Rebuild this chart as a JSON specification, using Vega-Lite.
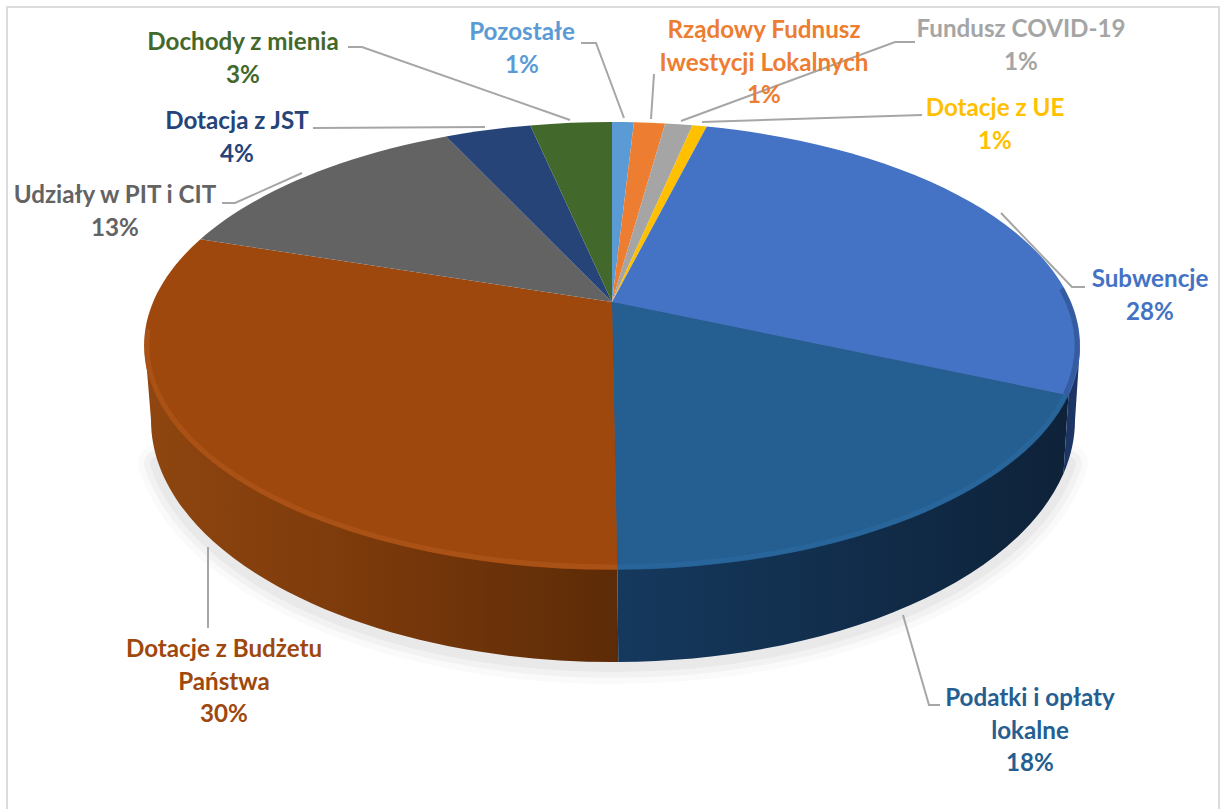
{
"$schema":"https://vega.github.io/schema/vega-lite/v6.json",
"width":1220,"height":809,"padding":0,"autosize":{"type":"none"},
"background":"#ffffff",
"view":{"stroke":null},
"data":{"values":[
{"order":1,"category":"Pozostałe","share":0.91,"label":"Pozostałe\n1%"},
{"order":2,"category":"Rządowy Fundusz","share":1.3,"label":"Rządowy Fudnusz\nIwestycji Lokalnych\n1%"},
{"order":3,"category":"Fundusz COVID-19","share":1.14,"label":"Fundusz COVID-19\n1%"},
{"order":4,"category":"Dotacje z UE","share":0.6,"label":"Dotacje z UE\n1%"},
{"order":5,"category":"Subwencje","share":27.6,"label":"Subwencje\n28%"},
{"order":6,"category":"Podatki","share":18.3,"label":"Podatki i opłaty\nlokalne\n18%"},
{"order":7,"category":"Dotacje BP","share":30.15,"label":"Dotacje z Budżetu\nPaństwa\n30%"},
{"order":8,"category":"Udziały","share":13,"label":"Udziały w PIT i CIT\n13%"},
{"order":9,"category":"Dotacja JST","share":3.6,"label":"Dotacja z JST\n4%"},
{"order":10,"category":"Dochody","share":3.4,"label":"Dochody z mienia\n3%"}
]},
"transform":[
{"stack":"share","groupby":[],"sort":[{"field":"order","order":"ascending"}],"as":["s0","s1"]},
{"calculate":"datum.s0*PI/50","as":"t0"},
{"calculate":"datum.s1*PI/50","as":"t1"},
{"calculate":"round(459*sin(datum.t0)/(1+0.196*cos(datum.t0))*100)/100","as":"x0"},
{"calculate":"round(-215.3*cos(datum.t0)/(1+0.196*cos(datum.t0))*100)/100","as":"y0"},
{"calculate":"round(459*sin(datum.t1)/(1+0.196*cos(datum.t1))*100)/100","as":"x1"},
{"calculate":"round(-215.3*cos(datum.t1)/(1+0.196*cos(datum.t1))*100)/100","as":"y1"},
{"calculate":"'M0,0L'+datum.x0+','+datum.y0+'A468,224,0,0,1,'+datum.x1+','+datum.y1+'Z'","as":"path"},
{"calculate":"max(datum.s0,24)*PI/50","as":"r0"},
{"calculate":"min(datum.s1,73)*PI/50","as":"r1"},
{"calculate":"'M'+round(456*sin(datum.r0)/(1+0.196*cos(datum.r0))*100)/100+','+round(-213*cos(datum.r0)/(1+0.196*cos(datum.r0))*100)/100+'A465,221.5,0,0,1,'+round(456*sin(datum.r1)/(1+0.196*cos(datum.r1))*100)/100+','+round(-213*cos(datum.r1)/(1+0.196*cos(datum.r1))*100)/100","as":"rim"},
{"calculate":"1+datum.x0*0.987","as":"bx0"},
{"calculate":"1+datum.x1*0.987","as":"bx1"},
{"calculate":"118+242*sqrt(max(0,1-pow((datum.bx0-1)/462,2)))","as":"by0"},
{"calculate":"118+242*sqrt(max(0,1-pow((datum.bx1-1)/462,2)))","as":"by1"},
{"calculate":"({'Pozostałe':522,'Rządowy Fundusz':764,'Fundusz COVID-19':1021,'Dotacje z UE':995,'Subwencje':1150,'Podatki':1030,'Dotacje BP':224,'Udziały':115,'Dotacja JST':237,'Dochody':243})[datum.category]","as":"lx"},
{"calculate":"({'Pozostałe':40,'Rządowy Fundusz':38,'Fundusz COVID-19':37,'Dotacje z UE':116,'Subwencje':287,'Podatki':706,'Dotacje BP':657,'Udziały':203,'Dotacja JST':129,'Dochody':50})[datum.category]","as":"ly"}
],
"layer":[
{"transform":[{"filter":"datum.category==='Podatki'"}],
 "mark":{"type":"point","shape":"M7,809L7,7L1219,7L1219,809","filled":false,"opacity":1,"size":4,"stroke":"#dcdcdc","strokeWidth":2},
 "encoding":{"x":{"value":0},"y":{"value":0}}},
{"transform":[{"filter":"datum.category==='Podatki'"}],
 "mark":{"type":"point","shape":"M-454,160A462,242,0,0,0,456,160","filled":false,"opacity":1,"size":4,"stroke":"#000000","strokeOpacity":0.02,"strokeWidth":40,"strokeCap":"round"},
 "encoding":{"x":{"value":612},"y":{"value":304}}},
{"transform":[{"filter":"datum.category==='Podatki'"}],
 "mark":{"type":"point","shape":"M-454,160A462,242,0,0,0,456,160","filled":false,"opacity":1,"size":4,"stroke":"#000000","strokeOpacity":0.03,"strokeWidth":28,"strokeCap":"round"},
 "encoding":{"x":{"value":612},"y":{"value":304}}},
{"transform":[{"filter":"datum.category==='Podatki'"}],
 "mark":{"type":"point","shape":"M-454,160A462,242,0,0,0,456,160","filled":false,"opacity":1,"size":4,"stroke":"#000000","strokeOpacity":0.035,"strokeWidth":16,"strokeCap":"round"},
 "encoding":{"x":{"value":612},"y":{"value":304}}},
{"transform":[{"filter":"datum.category==='Dotacje BP'"},
  {"calculate":"'M'+datum.x0+','+datum.y0+'L'+datum.bx0+','+datum.by0+'A462,242,0,0,1,-461,118L-467,44L0,0Z'","as":"wall"}],
 "mark":{"type":"point","filled":true,"opacity":1,"size":4,"fill":{"gradient":"linear","x1":0,"y1":0,"x2":1,"y2":0,"stops":[{"offset":0,"color":"#8f4610"},{"offset":0.45,"color":"#7c3a0b"},{"offset":1,"color":"#5c2b07"}]}},
 "encoding":{"x":{"value":612},"y":{"value":302},"shape":{"field":"wall","type":"nominal","scale":null,"legend":null}}},
{"transform":[{"filter":"datum.category==='Podatki'"},
  {"calculate":"'M'+datum.x1+','+datum.y1+'L'+datum.bx1+','+datum.by1+'A462,242,0,0,0,'+datum.bx0+','+datum.by0+'L'+datum.x0+','+datum.y0+'L0,0Z'","as":"wall"}],
 "mark":{"type":"point","filled":true,"opacity":1,"size":4,"fill":{"gradient":"linear","x1":0,"y1":0,"x2":1,"y2":0,"stops":[{"offset":0,"color":"#15395e"},{"offset":1,"color":"#0e2239"}]}},
 "encoding":{"x":{"value":612},"y":{"value":302},"shape":{"field":"wall","type":"nominal","scale":null,"legend":null}}},
{"transform":[{"filter":"datum.category==='Subwencje'"},
  {"calculate":"'M'+datum.x1+','+datum.y1+'L'+datum.bx1+','+datum.by1+'A462,242,0,0,0,463,118L468,44L0,0Z'","as":"wall"}],
 "mark":{"type":"point","filled":true,"opacity":1,"size":4,"fill":"#1c3564"},
 "encoding":{"x":{"value":612},"y":{"value":302},"shape":{"field":"wall","type":"nominal","scale":null,"legend":null}}},
{"mark":{"type":"point","filled":true,"opacity":1,"size":4},
 "encoding":{"x":{"value":612},"y":{"value":302},
  "shape":{"field":"path","type":"nominal","scale":null,"legend":null},
  "color":{"field":"category","type":"nominal","legend":null,"scale":{"domain":["Pozostałe","Rządowy Fundusz","Fundusz COVID-19","Dotacje z UE","Subwencje","Podatki","Dotacje BP","Udziały","Dotacja JST","Dochody"],"range":["#5B9BD5","#ED7D31","#A5A5A5","#FFC000","#4472C4","#255E91","#9E480E","#636363","#264478","#43682B"]}}}},
{"transform":[{"filter":"datum.category==='Subwencje'||datum.category==='Podatki'||datum.category==='Dotacje BP'"}],
 "mark":{"type":"point","filled":false,"opacity":1,"size":4,"strokeWidth":5,"strokeOpacity":0.55},
 "encoding":{"x":{"value":612},"y":{"value":302},
  "shape":{"field":"rim","type":"nominal","scale":null,"legend":null},
  "stroke":{"field":"category","type":"nominal","legend":null,"scale":{"domain":["Subwencje","Podatki","Dotacje BP"],"range":["#2a4a85","#2c6ba3","#b5591d"]}}}},
{"mark":{"type":"point","filled":false,"opacity":1,"size":4,"stroke":"#A6A6A6","strokeWidth":2},
 "encoding":{"x":{"value":0},"y":{"value":0},
  "shape":{"field":"category","type":"nominal","legend":null,"scale":{"domain":["Pozostałe","Rządowy Fundusz","Fundusz COVID-19","Dotacje z UE","Subwencje","Podatki","Dotacje BP","Udziały","Dotacja JST","Dochody"],"range":["M581,43L596,43L624,118","M651,119L654,74","M681,121L895,42L915,42","M702,122L922,115","M1001,213L1072,287L1085,287","M903,615L929,705L940,705","M208,547L208,628","M302,173L235,203L222,203","M485,127L313,128","M570,120L362,47L348,47"]}}}},
{"mark":{"type":"text","font":"Lato","fontWeight":"bold","fontSize":24.2,"lineBreak":"\n","lineHeight":32.5,"align":"center","baseline":"alphabetic"},
 "encoding":{"x":{"field":"lx","type":"quantitative","scale":null},"y":{"field":"ly","type":"quantitative","scale":null},
  "text":{"field":"label"},
  "color":{"field":"category","type":"nominal","legend":null}}}
]
}
